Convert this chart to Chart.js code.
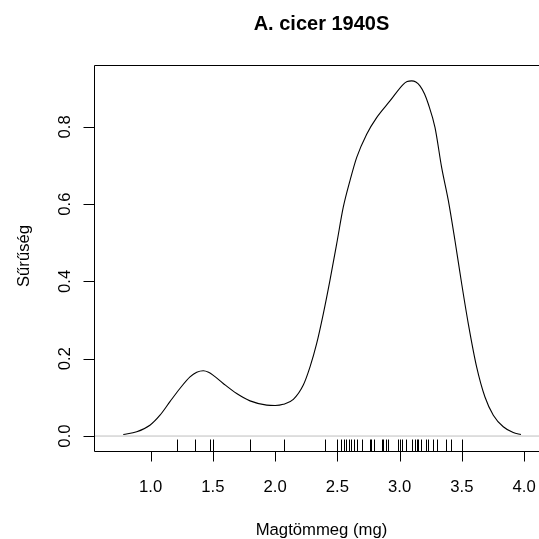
<!DOCTYPE html>
<html>
<head>
<meta charset="utf-8">
<script src="https://cdn.jsdelivr.net/npm/chart.js@4.4.1/dist/chart.umd.min.js"></script>
<style>
html,body{margin:0;padding:0;background:#fff;overflow:hidden;}
canvas{display:block;}
</style>
</head>
<body>
<canvas id="c" width="539" height="539"></canvas>
<script>
// ---- data ----
const titleText = "A. cicer 1940S";
const xLabel = "Magtömmeg (mg)";
const yLabel = "Sűrűség";
const xTicks = [1.0, 1.5, 2.0, 2.5, 3.0, 3.5, 4.0];
const xTickLabels = ["1.0", "1.5", "2.0", "2.5", "3.0", "3.5", "4.0"];
const yTicks = [0.0, 0.2, 0.4, 0.6, 0.8];
const yTickLabels = ["0.0", "0.2", "0.4", "0.6", "0.8"];
const densX = [0.78,0.888,0.994,1.075,1.155,1.235,1.316,1.37,1.423,1.465,1.503,1.583,1.691,1.798,1.932,2.0,2.065,2.146,2.226,2.28,2.333,2.387,2.44,2.494,2.547,2.601,2.655,2.735,2.815,2.922,3.029,3.06,3.096,3.13,3.163,3.2,3.23,3.284,3.337,3.391,3.444,3.498,3.551,3.618,3.685,3.752,3.832,3.912,3.974];
const densY = [0.004,0.011,0.028,0.054,0.089,0.123,0.153,0.165,0.169,0.165,0.157,0.136,0.110,0.091,0.080,0.079,0.082,0.095,0.132,0.179,0.239,0.317,0.403,0.497,0.592,0.661,0.721,0.781,0.824,0.867,0.910,0.917,0.919,0.916,0.906,0.885,0.859,0.798,0.695,0.609,0.506,0.394,0.291,0.179,0.101,0.054,0.024,0.009,0.004];
const rugX = [1.21,1.36,1.48,1.50,1.80,2.07,2.40,2.50,2.53,2.55,2.57,2.59,2.61,2.63,2.66,2.70,2.76,2.77,2.79,2.86,2.87,2.89,2.91,2.99,3.00,3.02,3.05,3.10,3.12,3.14,3.15,3.17,3.21,3.23,3.27,3.30,3.37,3.41,3.50];

const X_MIN = 0.545, X_MAX = 4.119, Y_MIN = -0.0387, Y_MAX = 0.96;

const curve = densX.map((x, i) => ({x: x, y: densY[i]}));
const zeroLine = [{x: X_MIN, y: 0}, {x: X_MAX, y: 0}];

const FONT = "Liberation Sans, Arial, sans-serif";

const rPlot = {
  id: 'rplot',
  beforeDraw(chart) {
    const c = chart.ctx;
    c.save();
    c.fillStyle = '#fff';
    c.fillRect(0, 0, chart.width, chart.height);
    c.restore();
  },
  afterDraw(chart) {
    const c = chart.ctx;
    const a = chart.chartArea;
    const xs = chart.scales.x, ys = chart.scales.y;
    c.save();
    c.strokeStyle = '#000';
    c.lineWidth = 1;
    // box (left, top, bottom)
    const L = Math.round(a.left) + 0.5, T = Math.round(a.top) + 0.5, B = Math.round(a.bottom) + 0.5;
    c.beginPath();
    c.moveTo(chart.width + 5, T); c.lineTo(L, T); c.lineTo(L, B); c.lineTo(chart.width + 5, B);
    c.stroke();
    // rug
    c.beginPath();
    rugX.forEach(v => {
      const px = Math.round(xs.getPixelForValue(v)) + 0.5;
      c.moveTo(px, B); c.lineTo(px, B - 12);
    });
    c.stroke();
    // x axis ticks
    c.fillStyle = '#000';
    c.font = '16.7px ' + FONT;
    c.textAlign = 'center';
    c.textBaseline = 'alphabetic';
    c.beginPath();
    xTicks.forEach((v, i) => {
      const px = Math.round(xs.getPixelForValue(v)) + 0.5;
      c.moveTo(px, B); c.lineTo(px, B + 10);
    });
    c.stroke();
    xTicks.forEach((v, i) => {
      const px = xs.getPixelForValue(v);
      c.fillText(xTickLabels[i], px, 492);
    });
    // y axis ticks
    c.beginPath();
    yTicks.forEach(v => {
      const py = Math.round(ys.getPixelForValue(v)) + 0.5;
      c.moveTo(L, py); c.lineTo(L - 11, py);
    });
    c.stroke();
    yTicks.forEach((v, i) => {
      const py = ys.getPixelForValue(v);
      c.save();
      c.translate(70, py);
      c.rotate(-Math.PI / 2);
      c.textAlign = 'center';
      c.fillText(yTickLabels[i], 0, 0);
      c.restore();
    });
    // axis titles
    const cx = 321.5;
    c.textAlign = 'center';
    c.fillText(xLabel, cx, 535);
    c.save();
    c.translate(29, 256);
    c.rotate(-Math.PI / 2);
    c.fillText(yLabel, 0, 0);
    c.restore();
    // title
    c.font = 'bold 20px ' + FONT;
    c.fillText(titleText, cx, 30);
    c.restore();
  }
};

new Chart(document.getElementById('c'), {
  type: 'scatter',
  data: {
    datasets: [
      {data: zeroLine, showLine: true, borderColor: '#bebebe', borderWidth: 1, pointRadius: 0, fill: false},
      {data: curve, showLine: true, borderColor: '#000', borderWidth: 1.1, pointRadius: 0, fill: false, cubicInterpolationMode: 'monotone'}
    ]
  },
  options: {
    responsive: false,
    animation: false,
    devicePixelRatio: 1,
    layout: {padding: {left: 94, top: 65, right: 0, bottom: 88}},
    plugins: {legend: {display: false}, tooltip: {enabled: false}, title: {display: false}},
    scales: {
      x: {type: 'linear', min: X_MIN, max: X_MAX, display: false},
      y: {type: 'linear', min: Y_MIN, max: Y_MAX, display: false}
    }
  },
  plugins: [rPlot]
});
</script>
</body>
</html>
